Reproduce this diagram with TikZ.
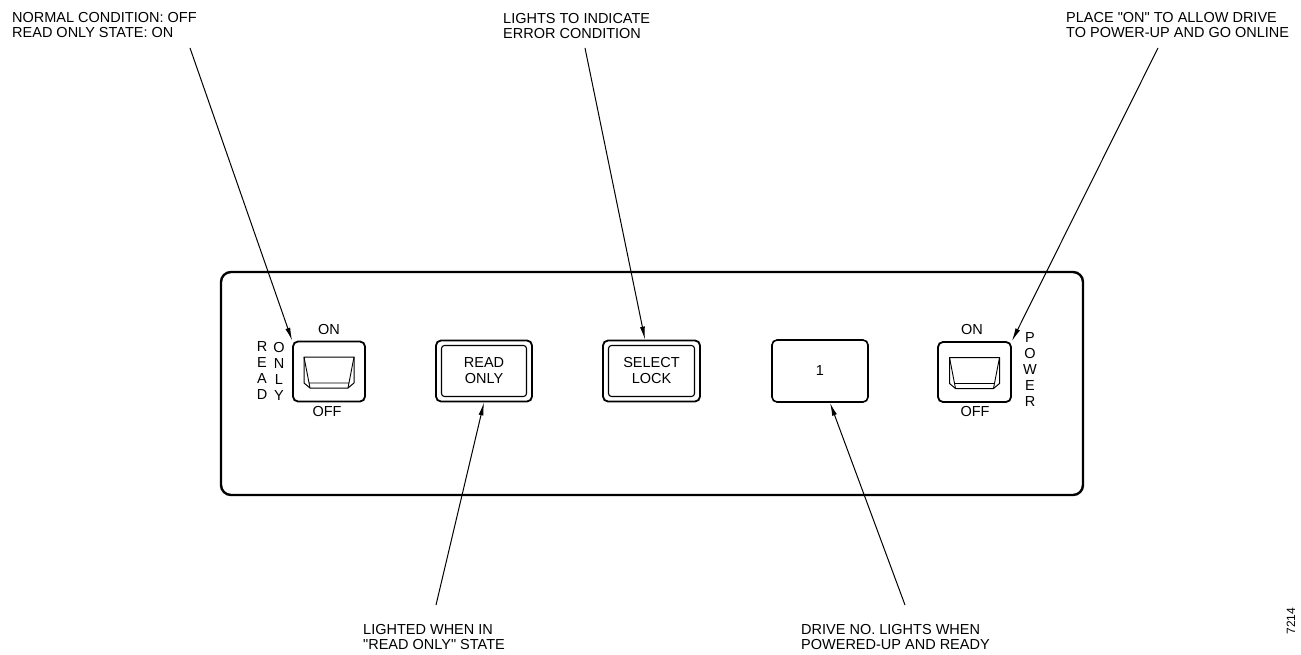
\documentclass[tikz,border=0pt]{standalone}
\usepackage{fontspec}
\setmainfont{Liberation Sans}
\usetikzlibrary{arrows.meta}

% rocker face of a toggle switch, drawn round the centre of its housing
\newcommand{\rockerface}[1]{%
	\draw[line width=1pt, line join=round, shift={(#1)}] (-25,-14.5) -- (25,-14.5) -- (25,11.5) -- (19,16.5) -- (-19,16.5) -- (-25,11.5) -- cycle;
	\draw[line width=0.9pt, shift={(#1)}] (-25,-14.5) -- (-19,16.5) (25,-14.5) -- (19,16.5) (-20,11.5) -- (20,11.5);
}

\begin{document}
\begin{tikzpicture}[x=1pt, y=-1pt,
	lbl/.style={font=\fontsize{14.5}{15.5}\selectfont, inner sep=0pt, align=left},
	vlbl/.style={font=\fontsize{14.5}{16}\selectfont, inner sep=0pt, align=center},
	panel/.style={shape=rectangle, draw, line width=2.4pt, rounded corners=10pt},
	housing/.style={shape=rectangle, draw, line width=1.8pt, rounded corners=5pt},
	lampin/.style={shape=rectangle, draw, line width=1.1pt, rounded corners=3pt},
	callout/.style={line width=1pt, -{Latex[length=13pt,width=5pt]}}]
	\useasboundingbox (0,0) rectangle (1301,655);

	% front panel
	\node[panel, minimum width=862pt, minimum height=223pt](Panel) at (652, 383.5){};

	% read only switch
	\node[housing, minimum width=72pt, minimum height=60pt](SwRO) at (329, 371.5){};
	\rockerface{SwRO.center}
	\node[lbl](SwROon) at (329, 330){ON};
	\node[lbl](SwROoff) at (327, 412){OFF};
	\node[vlbl](SwROa) at (262, 371){R\\E\\A\\D};
	\node[vlbl](SwROb) at (279, 371){O\\N\\L\\Y};

	% indicators
	\node[housing, minimum width=96pt, minimum height=61pt](LmpRO) at (484, 371){};
	\node[lampin, minimum width=85pt, minimum height=51pt, align=center, font=\fontsize{14.5}{16}\selectfont](LmpROin) at (484, 371){READ\\ONLY};
	\node[housing, minimum width=97pt, minimum height=61pt](LmpSL) at (651.5, 371){};
	\node[lampin, minimum width=86pt, minimum height=51pt, align=center, font=\fontsize{14.5}{16}\selectfont](LmpSLin) at (651.5, 371){SELECT\\LOCK};
	\node[housing, line width=1.6pt, minimum width=96pt, minimum height=62pt, font=\fontsize{14.5}{16}\selectfont](DrvNo) at (820, 371){1};

	% power switch
	\node[housing, minimum width=73pt, minimum height=60pt](SwPw) at (974.5, 372){};
	\rockerface{SwPw.center}
	\node[lbl](SwPwon) at (972, 330){ON};
	\node[lbl](SwPwoff) at (975, 412){OFF};
	\node[vlbl](SwPwa) at (1030, 370){P\\O\\W\\E\\R};

	% callouts
	\node[lbl, anchor=north west](T1) at (12, 12){NORMAL CONDITION: OFF\\READ ONLY STATE: ON};
	\node[lbl, anchor=north west](T2) at (503, 13){LIGHTS TO INDICATE\\ERROR CONDITION};
	\node[lbl, anchor=north west](T3) at (1066, 12){PLACE \textquotedbl ON\textquotedbl\ TO ALLOW DRIVE\\TO POWER-UP AND GO ONLINE};
	\node[lbl, anchor=north west](T4) at (363, 624){LIGHTED WHEN IN\\\textquotedbl READ ONLY\textquotedbl\ STATE};
	\node[lbl, anchor=north west](T5) at (801, 624){DRIVE NO. LIGHTS WHEN\\POWERED-UP AND READY};
	\node[font=\fontsize{12}{13}\selectfont, rotate=90, inner sep=0pt](Fig) at (1291, 621){7214};

	\coordinate(C1) at (190, 48);
	\coordinate(C2) at (585, 48);
	\coordinate(C3) at (1158, 48);
	\coordinate(C4) at (436, 605);
	\coordinate(C5) at (905, 605);
	\draw[callout] (C1) -- (SwRO.north west);
	\draw[callout] (C2) -- (LmpSL.north -| 645,0);
	\draw[callout] (C3) -- (SwPw.north east);
	\draw[callout] (C4) -- (LmpRO.south);
	\draw[callout] (C5) -- (DrvNo.south -| 830,0);
\end{tikzpicture}
\end{document}
